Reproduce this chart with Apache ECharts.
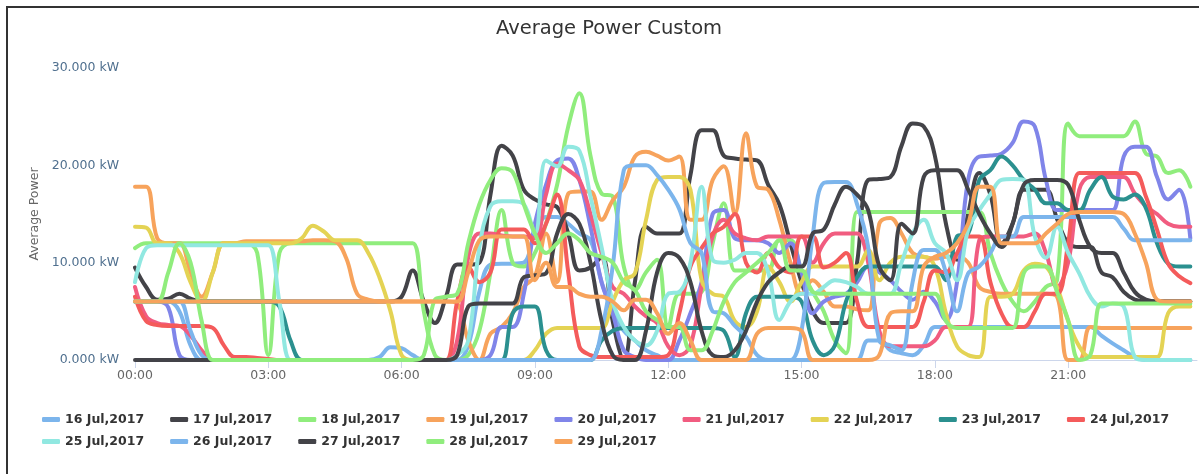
<!DOCTYPE html>
<html>
<head>
<meta charset="utf-8">
<title>Average Power Custom</title>
<script src="https://cdn.jsdelivr.net/npm/echarts@6.0.0/dist/echarts.min.js"></script>
<style>
  html, body { margin: 0; padding: 0; background: #fff; }
  #main { width: 1199px; height: 474px; }
  /* 截图边框 */
  #frame { position: absolute; left: 6px; top: 6px; right: 0; bottom: 0;
    border-top: 2px solid #333; border-left: 2px solid #333; pointer-events: none; }
</style>
</head>
<body>
<div id="main"></div>
<div id="frame"></div>
<script>
// 图例名称
const dayNames = ['16 Jul,2017', '17 Jul,2017', '18 Jul,2017', '19 Jul,2017', '20 Jul,2017',
  '21 Jul,2017', '22 Jul,2017', '23 Jul,2017', '24 Jul,2017', '25 Jul,2017',
  '26 Jul,2017', '27 Jul,2017', '28 Jul,2017', '29 Jul,2017'];

// 线条颜色
const lineColors = ['#7cb5ec', '#434348', '#90ed7d', '#f7a35c', '#8085e9', '#f15c80',
  '#e4d354', '#2b908f', '#f45b5b', '#91e8e1', '#7cb5ec', '#434348', '#90ed7d', '#f7a35c'];

// x 轴刻度 (小时)
const hourTicks = [0, 3, 6, 9, 12, 15, 18, 21];

/* 每 15 分钟一个点, 共 96 个 (kW) */
const jul16 = [
  6, 6, 6, 6, 5, 1.5, 0, 0, 0, 0, 0, 0, 0, 0, 0, 0,
  0, 0, 0, 0, 0, 0, 0.3, 1.3, 1.2, 0.5, 0, 0, 0, 0, 1.5, 7,
  9.8, 9.9, 9.9, 10, 13, 14.7, 14.7, 14, 13, 12.3, 8, 5, 3, 2, 1, 0.5,
  0, 0, 0, 0, 0, 0, 0, 0, 0, 0, 0, 0, 0, 0, 0, 0,
  0, 0, 2, 2, 1, 0.7, 0.5, 1.5, 3.4, 3.4, 3.4, 3.4, 3.4, 3.4, 3.4, 3.4,
  3.4, 3.4, 3.4, 3.4, 3.4, 3.4, 3.4, 2.5, 1.7, 1, 0.3, 0, 0, 0, 0, 0
];
const jul17 = [
  9.5, 7.5, 6.2, 6.3, 6.8, 6.3, 6, 6, 6, 6, 6, 6, 6, 6, 6, 6,
  6, 6, 6, 6, 6, 6, 6, 6, 6.5, 9.2, 6, 3.8, 6.5, 9.8, 9.8, 10,
  17, 22, 21, 17.5, 16.5, 16, 15.7, 13, 9.2, 9.5, 10.6, 4, 0, 8, 13.7, 13,
  13, 13, 19, 23.6, 23.6, 21, 20.7, 20.6, 20.5, 18, 16, 12, 8, 5, 3.8, 3.8,
  3.8, 10, 18.5, 18.6, 18.8, 22, 24.3, 24, 21, 14, 10.3, 15, 19.2, 17, 12, 14,
  17.5, 17.5, 17.5, 14.5, 12, 11.6, 11.6, 9, 8.5, 7, 6.2, 6, 6, 6, 6, 6
];
const jul18 = [
  11.5, 12, 12, 12, 12, 12, 12, 12, 12, 12, 12, 11, 0.5, 11, 12, 12,
  12, 12, 12, 12, 12, 12, 12, 12, 12, 12, 5, 0.5, 0, 0, 0.5, 3,
  9, 15.4, 10, 9.6, 11, 14, 18, 24, 27.4, 21, 17.1, 16.8, 9.6, 7.2, 9, 10.3,
  3.4, 6.8, 6.8, 7, 12, 16.1, 9.2, 9.2, 9.2, 9.2, 12.3, 12.3, 9.2, 7, 5, 2,
  0.7, 15.2, 15.2, 15.2, 15.2, 15.2, 15.2, 15.2, 15.2, 15.2, 15.2, 15.2, 15.2, 11, 8, 6,
  5, 6, 7.5, 8.2, 24.3, 23, 23, 23, 23, 23, 24.5, 21.2, 20.9, 19.2, 19.5, 17.8
];
const jul19 = [
  17.8, 17.8, 12.5, 12, 12, 9, 6.5, 9, 12, 12, 12.2, 12.2, 12.2, 12.2, 12.2, 12.2,
  12.3, 12.3, 12.2, 10.5, 6.8, 6.2, 6, 6, 6, 6, 6, 6, 6, 5.8, 2, 0,
  2.7, 3.4, 4.8, 7.5, 8.6, 13, 8, 17.1, 17.3, 17.3, 14.4, 16.4, 17.8, 20.9, 21.4, 21,
  20.5, 20.9, 14.4, 14.4, 18.5, 19.9, 15, 23.3, 17.8, 17.5, 14.4, 10, 6.8, 8.2, 7, 5.5,
  5.5, 5.2, 5.1, 14, 14.6, 13, 11, 10.6, 10.4, 10.6, 10.6, 10, 7.5, 7, 6.8, 6.8,
  6.8, 6.8, 6.8, 6.5, 0, 0, 3.4, 3.3, 3.3, 3.3, 3.3, 3.3, 3.3, 3.3, 3.3, 3.3
];
const jul20 = [
  6, 6, 6, 5.4, 0.5, 0, 0, 0, 0, 0, 0, 0, 0, 0, 0, 0,
  0, 0, 0, 0, 0, 0, 0, 0, 0, 0, 0, 0, 0, 0, 0, 0,
  0.5, 3.4, 3.4, 6.8, 14, 18, 20.5, 20.7, 18.5, 13.7, 8, 4.8, 1, 0.3, 0, 0,
  0, 2, 4.8, 8, 15, 15.4, 12.5, 12.3, 12.3, 12, 11, 12, 9, 4.8, 6, 6.5,
  6.8, 8, 9.6, 9, 8.2, 7, 6.2, 7, 6, 4.1, 8, 18.5, 20.9, 21, 21.2, 22.3,
  24.5, 24, 18.5, 15.4, 15.4, 15.4, 15.4, 15.4, 15.4, 20.9, 21.9, 21.9, 18.8, 16.5, 17.5, 12.5
];
const jul21 = [
  7.5, 4.5, 3.8, 3.6, 3.5, 2.5, 1, 0, 0, 0, 0, 0, 0, 0, 0, 0,
  0, 0, 0, 0, 0, 0, 0, 0, 0, 0, 0, 0, 0, 2, 10.6, 13,
  13, 12.8, 12.7, 12.7, 12.5, 17, 20.2, 19.5, 18.5, 15, 11, 7.5, 6.8, 5.5, 4.5, 3.8,
  1.4, 0.5, 1.5, 7.5, 12.7, 14.4, 13, 12.5, 12.3, 12.7, 12.7, 12.7, 12.7, 10, 12, 13,
  13, 13, 10, 3, 1.4, 1.4, 1.4, 1.4, 2, 3.4, 3.4, 3.4, 12.3, 12.7, 12.7, 12.7,
  12.7, 13, 11, 7.5, 10, 17.5, 18.8, 18.8, 18.8, 18.8, 17.1, 15.8, 15, 14, 13.7, 13.7
];
const jul22 = [
  13.7, 13.6, 12, 12, 11, 8, 6, 9, 12, 12, 12, 12, 12, 12, 12, 12.5,
  13.8, 13.2, 12.3, 12.3, 12.3, 11, 8.5, 5, 0.5, 0, 0, 0, 0, 0, 0, 0,
  0, 0, 0, 0, 1, 2.7, 3.3, 3.3, 3.3, 3.3, 3.3, 6, 8.2, 8.9, 14.4, 18.5,
  18.8, 18.8, 17.5, 8.2, 6.8, 6.5, 4, 3.4, 5, 9.6, 8, 6, 8, 9.6, 9.6, 9.6,
  9.6, 9.6, 11.3, 8.2, 10, 10.6, 10.6, 10.6, 9.6, 4.8, 1.4, 0.5, 0.3, 6.5, 6.5, 6.8,
  9.2, 9.9, 9.6, 7.5, 4, 1.4, 0.3, 0.3, 0.3, 0.3, 0.3, 0.3, 0.3, 4.8, 5.5, 5.5
];
const jul23 = [
  6, 6, 6, 6, 6, 6, 6, 6, 6, 6, 6, 6, 6, 5.5, 2, 0,
  0, 0, 0, 0, 0, 0, 0, 0, 0, 0, 0, 0, 0, 0, 0, 0,
  0, 0, 4.8, 5.5, 5.5, 1, 0, 0, 0, 0, 2, 3, 3.3, 3.3, 3.3, 3.3,
  3.3, 3.3, 3.3, 3.3, 3.3, 3, 0.3, 4.8, 6.5, 6.5, 6.5, 6.5, 6, 2, 0.5, 1.5,
  6, 8.5, 9.6, 9.6, 9.6, 9.6, 9.6, 9.6, 9.6, 8.2, 12.7, 13, 18.5, 19.5, 20.9, 20,
  18.5, 17.5, 16.1, 16.1, 15.4, 15.4, 17.5, 18.8, 16.8, 16.5, 17, 15.6, 12, 9.9, 9.6, 9.6
];
const jul24 = [
  6.5, 4, 3.6, 3.5, 3.5, 3.5, 3.5, 3.3, 1.5, 0.3, 0.3, 0.2, 0.1, 0, 0, 0,
  0, 0, 0, 0, 0, 0, 0, 0, 0, 0, 0, 0, 0, 6, 9.6, 8,
  9, 13.4, 13.4, 13.4, 12, 14, 17, 9, 1.4, 0.5, 0.3, 0.3, 0.3, 0.3, 0.3, 0.3,
  0.5, 4.8, 9.6, 11.5, 13, 13.7, 15, 10, 9, 11, 9.5, 9, 12.7, 12.7, 9.5, 10,
  11, 6, 3.4, 3.4, 3.4, 3.4, 3.4, 6, 9.2, 9, 11, 12.7, 12.7, 8, 4.8, 3.4,
  3.4, 5, 6.8, 6.8, 12, 19.2, 19.2, 19.2, 19.2, 19.2, 19.2, 16.8, 13.4, 9.9, 8.6, 7.9
];
const jul25 = [
  8, 11.5, 11.8, 11.8, 11.8, 11.8, 11.8, 11.8, 11.8, 11.8, 11.8, 11.8, 11.8, 6, 0, 0,
  0, 0, 0, 0, 0, 0, 0, 0, 0, 0, 0, 0, 0, 0.5, 2, 11.6,
  15.8, 16.3, 16.3, 16, 13, 20.5, 19.9, 21.9, 21.5, 16.8, 11.6, 6, 3.4, 2, 1.5, 3,
  6.8, 7, 10, 17.8, 10.3, 10, 10.3, 11, 11, 9, 4.1, 6, 6.8, 6.8, 7.5, 8.2,
  8, 7.5, 6.8, 6.8, 6.8, 10, 13, 14.4, 12, 11, 8.2, 13.4, 15.4, 17, 18.5, 18.6,
  18.5, 12.7, 10.5, 13.7, 11, 8.9, 6.5, 5.5, 5.8, 5.5, 0.3, 0, 0, 0, 0, 0
];
const jul26 = [
  6, 6, 6, 6, 6, 3, 0.5, 0, 0, 0, 0, 0, 0, 0, 0, 0,
  0, 0, 0, 0, 0, 0, 0, 0, 0, 0, 0, 0, 0, 0, 0, 0,
  0, 0, 0, 0, 0, 0, 0, 0, 0, 0, 3, 9.6, 19.5, 20, 20, 19,
  17.5, 15.5, 12, 11, 5, 4.8, 3.5, 2.4, 0.5, 0, 0, 0, 3, 12.7, 18.2, 18.3,
  18.3, 16, 11.6, 2, 1.5, 1, 8, 11.3, 11.3, 9, 5, 8.9, 9.6, 11, 12.7, 12.7,
  14.7, 14.7, 14.7, 14.7, 14.7, 14.7, 14.7, 14.7, 14.7, 13.5, 12.3, 12.3, 12.3, 12.3, 12.3, 12.3
];
const jul27 = [
  0, 0, 0, 0, 0, 0, 0, 0, 0, 0, 0, 0, 0, 0, 0, 0,
  0, 0, 0, 0, 0, 0, 0, 0, 0, 0, 0, 0, 0, 0.5, 5.5, 5.8,
  5.8, 5.8, 5.8, 8.5, 8.7, 8.9, 13, 15, 14, 10, 4, 0.5, 0, 0, 3, 9,
  11, 10.5, 8, 3, 0.5, 0.3, 1, 3, 6, 8, 9, 9.6, 9.6, 13, 13.4, 16,
  17.8, 17, 15.4, 9.6, 8.2, 14, 13, 18.8, 19.5, 19.5, 19.5, 17.5, 15, 13, 11.6, 14,
  18, 18.5, 18.5, 18.5, 18, 14.4, 11.6, 11, 11, 9, 7, 6.2, 6, 6, 6, 6
];
const jul28 = [
  6, 6, 6, 9, 12, 10, 4, 0, 0, 0, 0, 0, 0, 0, 0, 0,
  0, 0, 0, 0, 0, 0, 0, 0, 0, 0, 0.5, 6.2, 6.5, 6.8, 12, 16,
  18.5, 19.7, 19.3, 16, 13, 11, 12, 13, 12.3, 11, 10.6, 10, 8, 7.2, 5, 4.1,
  3.4, 3.4, 1, 1, 3, 6, 8, 9, 10, 11, 12.3, 9.2, 9.2, 7, 6.8, 6.8,
  6.8, 6.8, 6.8, 6.8, 6.8, 6.8, 6.8, 6.8, 6.8, 4, 3.3, 3.3, 3.3, 3.3, 3.3, 3.3,
  8.9, 9.6, 9.6, 7, 4.1, 0, 0.5, 5.8, 5.8, 5.8, 5.8, 5.8, 5.8, 5.8, 5.8, 5.8
];
const jul29 = [
  6, 6, 6, 6, 6, 6, 6, 6, 6, 6, 6, 6, 6, 6, 6, 6,
  6, 6, 6, 6, 6, 6, 6, 6, 6, 6, 6, 6, 6, 6, 9, 12.3,
  12.7, 12.7, 12.7, 12.7, 8.2, 10, 7.5, 7.5, 6.8, 6.5, 6.5, 6, 5.1, 6.2, 6.2, 4.8,
  2.7, 3.8, 2, 0, 0, 0, 0, 0, 2.7, 3.3, 3.3, 3.3, 3, 0, 0, 0,
  0, 0, 0, 0.5, 4.8, 5, 5, 9.6, 10.6, 11, 12, 14, 17.8, 17.8, 12, 12,
  12, 12, 13, 14, 15, 15.2, 15.2, 15.2, 15.2, 15, 13, 10, 6.2, 6, 6, 6
];

const allDays = [jul16, jul17, jul18, jul19, jul20, jul21, jul22,
  jul23, jul24, jul25, jul26, jul27, jul28, jul29];

// 时间轴: 第 i 个点 = i * 15 分钟
const hours = [];
for (let i = 0; i < 96; i++) {
  hours.push(i / 4);
}

const baseFont = 'DejaVu Sans';

// 构造折线
const seriesList = allDays.map((vals, idx) => {
  return {
    name: dayNames[idx],
    type: 'line',
    data: vals.map((v, i) => [hours[i], v]),
    smooth: 0.4,
    showSymbol: false,
    color: lineColors[idx],
    lineStyle: { width: 4, cap: 'round', join: 'round' },
    emphasis: { disabled: true }
  };
});

// 图例样式
const legendBase = {
  left: 42,
  padding: 0,
  itemGap: 26,
  itemWidth: 18,
  itemHeight: 5,
  icon: 'roundRect',
  selectedMode: false,
  textStyle: { fontFamily: baseFont, fontSize: 12.5, fontWeight: 'bold', color: '#333' }
};

const chart = echarts.init(document.getElementById('main'), null, { renderer: 'canvas' });

chart.setOption({
  animation: false,
  backgroundColor: '#fff',
  title: {
    text: 'Average Power Custom',
    left: 609,
    top: 19,
    padding: 0,
    textAlign: 'center',
    textStyle: { fontFamily: baseFont, fontSize: 19.5, fontWeight: 'normal', color: '#333' }
  },
  legend: [
    Object.assign({}, legendBase, { top: 413, data: dayNames.slice(0, 9) }),
    Object.assign({}, legendBase, { top: 435, data: dayNames.slice(9) })
  ],
  grid: { left: 135, right: 2, top: 68, bottom: 114, containLabel: false },
  xAxis: {
    type: 'value',
    min: 0,
    max: 23.9,
    interval: 3,
    axisLine: { show: true, lineStyle: { color: '#ccd6eb', width: 1 } },
    axisTick: { show: true, length: 8, lineStyle: { color: '#ccd6eb' }, customValues: hourTicks },
    axisLabel: {
      customValues: hourTicks,
      margin: 9,
      color: '#666',
      fontFamily: baseFont,
      fontSize: 12.5,
      formatter: (v) => (v < 10 ? '0' : '') + v + ':00'
    },
    splitLine: { show: false }
  },
  yAxis: {
    type: 'value',
    min: 0,
    max: 30,
    interval: 10,
    name: 'Average Power',
    nameLocation: 'middle',
    nameGap: 94,
    nameRotate: 90,
    nameTextStyle: { fontFamily: baseFont, fontSize: 12.5, color: '#666' },
    axisLine: { show: false },
    axisTick: { show: false },
    splitLine: { show: false },
    axisLabel: {
      margin: 16,
      color: '#50708f',
      fontFamily: baseFont,
      fontSize: 12.5,
      formatter: (v) => v.toFixed(3) + ' kW'
    }
  },
  series: seriesList
});
</script>
</body>
</html>
